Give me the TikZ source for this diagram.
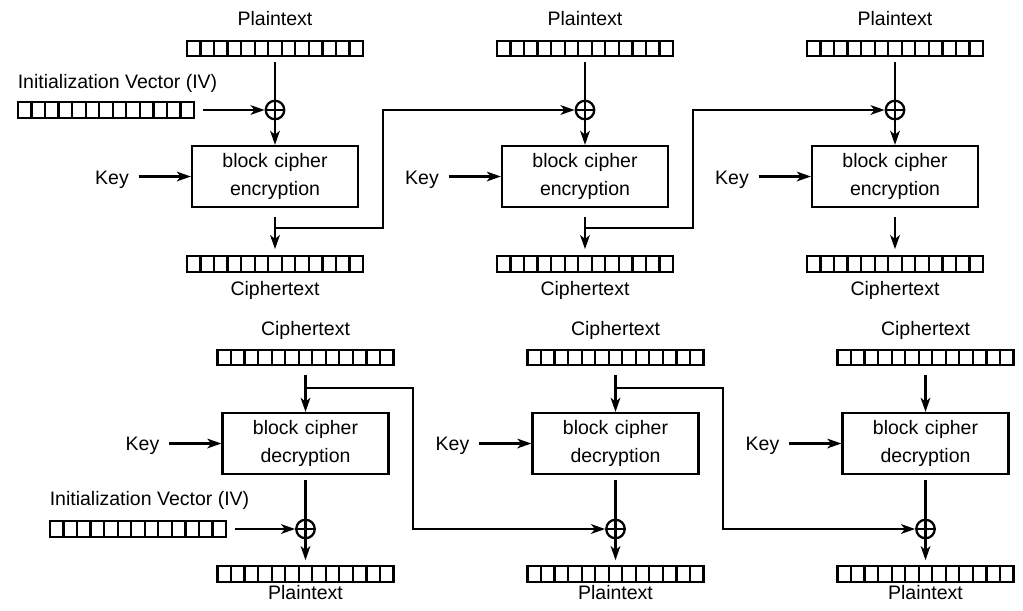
\documentclass[tikz,border=0pt]{standalone}
\usepackage{fontspec}
\setmainfont{Liberation Sans}
\usetikzlibrary{arrows.meta,calc}

\tikzstyle{bits} = [rectangle, draw, minimum width=3.52cm, minimum height=0.31cm, inner sep=0pt, path picture={\foreach \k in {1,...,12} \draw ($(path picture bounding box.south west)!\k/13!(path picture bounding box.south east)$) -- ++(0,0.31cm);}]
\tikzstyle{cipher} = [rectangle, draw, minimum width=3.32cm, minimum height=1.22cm, text width=3cm, align=center, inner sep=0pt]
\tikzstyle{xor} = [circle, draw, minimum size=0.37cm, inner sep=0pt, path picture={\draw (path picture bounding box.north) -- (path picture bounding box.south) (path picture bounding box.west) -- (path picture bounding box.east);}]
\tikzstyle{caption} = [inner sep=0pt, anchor=base]
\tikzstyle{flow} = [-{Stealth[length=8pt, width=5.5pt, inset=2.2pt]}]

\begin{document}
\begin{tikzpicture}[x=0.02cm, y=-0.02cm, line width=1.3pt, font=\fontsize{11.1}{15.9}\selectfont]
  \useasboundingbox (0,0) rectangle (1023,610);

    %  encryption  
    \node[caption] (IVt) at (117.5,88) {Initialization Vector (IV)};
    \node[bits] (IV1) at (106,110) {};

    \node[caption] (PT1) at (275,25) {Plaintext};
    \node[bits] (P1) at (275,48.5) {};
    \node[xor] (X1) at (275,110) {};
    \node[cipher] (B1) at (275,176.5) {block cipher\\encryption};
    \node[caption] (K1) at (112,184) {Key};
    \node[bits] (C1) at (275,264) {};
    \node[caption] (CT1) at (275,295) {Ciphertext};

    \node[caption] (PT2) at (585,25) {Plaintext};
    \node[bits] (P2) at (585,48.5) {};
    \node[xor] (X2) at (585,110) {};
    \node[cipher] (B2) at (585,176.5) {block cipher\\encryption};
    \node[caption] (K2) at (422,184) {Key};
    \node[bits] (C2) at (585,264) {};
    \node[caption] (CT2) at (585,295) {Ciphertext};

    \node[caption] (PT3) at (895,25) {Plaintext};
    \node[bits] (P3) at (895,48.5) {};
    \node[xor] (X3) at (895,110) {};
    \node[cipher] (B3) at (895,176.5) {block cipher\\encryption};
    \node[caption] (K3) at (732,184) {Key};
    \node[bits] (C3) at (895,264) {};
    \node[caption] (CT3) at (895,295) {Ciphertext};

    \coordinate (f1) at (275,228);
    \coordinate (t1) at (383,228);
    \coordinate (f2) at (585,228);
    \coordinate (t2) at (693,228);

    \draw[flow, shorten <=4.5pt] (IV1) -- (X1);
    \draw[shorten <=2.8pt] (P1) -- (X1);
    \draw[shorten <=2.8pt] (P2) -- (X2);
    \draw[shorten <=2.8pt] (P3) -- (X3);
    \draw[flow] (X1) -- (B1);
    \draw[flow] (X2) -- (B2);
    \draw[flow] (X3) -- (B3);
    \draw[flow, shorten <=5pt] (K1.east |- B1.west) -- (B1.west);
    \draw[flow, shorten <=5pt] (K2.east |- B2.west) -- (B2.west);
    \draw[flow, shorten <=5pt] (K3.east |- B3.west) -- (B3.west);
    \draw[flow, shorten <=5pt, shorten >=3.4pt] (B1) -- (C1);
    \draw[flow, shorten <=5pt, shorten >=3.4pt] (B2) -- (C2);
    \draw[flow, shorten <=5pt, shorten >=3.4pt] (B3) -- (C3);
    \draw[flow] (f1) -- (t1) |- (X2);
    \draw[flow] (f2) -- (t2) |- (X3);

    %-----------------------------------------------------------
    %  decryption
    \node[caption] (DCT1) at (305.5,335) {Ciphertext};
    \node[bits] (DC1) at (305.5,357.5) {};
    \node[cipher] (DB1) at (305.5,443.5) {block cipher\\decryption};
    \node[caption] (DK1) at (142.5,450) {Key};
    \node[xor] (DX1) at (305.5,529) {};
    \node[bits] (DP1) at (305.5,574) {};
    \node[caption] (DPT1) at (305.5,599) {Plaintext};

    \node[caption] (IVb) at (149.5,505) {Initialization Vector (IV)};
    \node[bits] (IV2) at (138,529) {};

    \node[caption] (DCT2) at (615.5,335) {Ciphertext};
    \node[bits] (DC2) at (615.5,357.5) {};
    \node[cipher] (DB2) at (615.5,443.5) {block cipher\\decryption};
    \node[caption] (DK2) at (452.5,450) {Key};
    \node[xor] (DX2) at (615.5,529) {};
    \node[bits] (DP2) at (615.5,574) {};
    \node[caption] (DPT2) at (615.5,599) {Plaintext};

    \node[caption] (DCT3) at (925.5,335) {Ciphertext};
    \node[bits] (DC3) at (925.5,357.5) {};
    \node[cipher] (DB3) at (925.5,443.5) {block cipher\\decryption};
    \node[caption] (DK3) at (762.5,450) {Key};
    \node[xor] (DX3) at (925.5,529) {};
    \node[bits] (DP3) at (925.5,574) {};
    \node[caption] (DPT3) at (925.5,599) {Plaintext};

    \coordinate (g1) at (305.5,388);
    \coordinate (h1) at (413,388);
    \coordinate (g2) at (615.5,388);
    \coordinate (h2) at (723,388);

    \draw[flow, shorten <=5pt] (DC1) -- (DB1);
    \draw[flow, shorten <=5pt] (DC2) -- (DB2);
    \draw[flow, shorten <=5pt] (DC3) -- (DB3);
    \draw[flow, shorten <=5pt] (DK1.east |- DB1.west) -- (DB1.west);
    \draw[flow, shorten <=5pt] (DK2.east |- DB2.west) -- (DB2.west);
    \draw[flow, shorten <=5pt] (DK3.east |- DB3.west) -- (DB3.west);
    \draw[shorten <=2.8pt] (DB1) -- (DX1);
    \draw[shorten <=2.8pt] (DB2) -- (DX2);
    \draw[shorten <=2.8pt] (DB3) -- (DX3);
    \draw[flow, shorten <=4.5pt] (IV2) -- (DX1);
    \draw[flow, shorten >=2.8pt] (DX1) -- (DP1);
    \draw[flow, shorten >=2.8pt] (DX2) -- (DP2);
    \draw[flow, shorten >=2.8pt] (DX3) -- (DP3);
    \draw[flow] (g1) -- (h1) |- (DX2);
    \draw[flow] (g2) -- (h2) |- (DX3);

  \end{tikzpicture}
\end{document}
